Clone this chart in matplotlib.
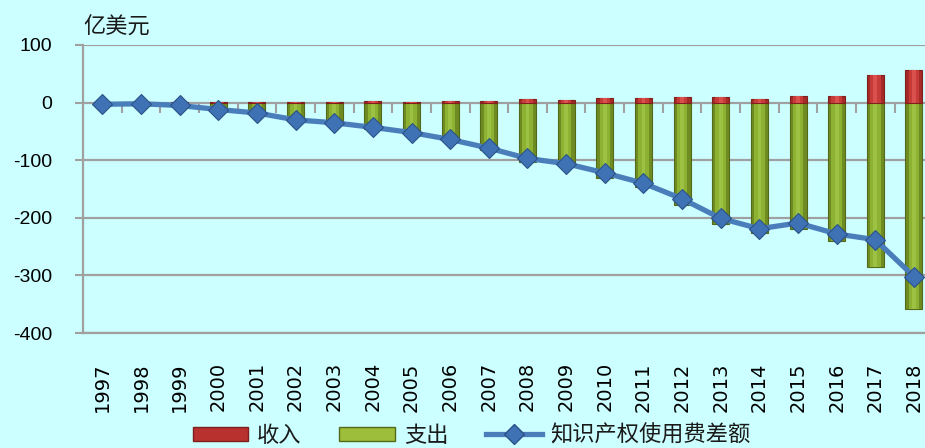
import matplotlib
matplotlib.use("Agg")
import matplotlib.pyplot as plt
import numpy as np
from matplotlib.patches import Patch
from matplotlib.lines import Line2D

BG = "#CCFFFF"; GRID = "#A0A0A0"; INK = "#1A1A1A"
CJK = ["Noto Sans CJK SC", "DejaVu Sans"]

years = [str(y) for y in range(1997, 2019)]
income = [0.6, 0.6, 0.8, 0.8, 1.1, 1.3, 1.1, 2.4, 1.6, 2.0, 3.4, 5.7,
          4.3, 8.3, 7.4, 10.4, 8.9, 6.8, 10.8, 11.6, 48, 56]
payment = [3.5, 2.5, 5.5, 12.8, 19.4, 31.1, 35.5, 45.0, 53.2, 66.3, 81.9, 103.2,
           110.7, 130.4, 147.1, 177.5, 210.3, 226.1, 220.2, 239.8, 285.8, 357.9]
balance = [-3, -2, -5, -12, -18, -30, -35, -43, -52, -64, -79, -97,
           -106, -122, -140, -167, -201, -219, -209, -228, -238, -302]

plt.rcParams.update({"font.family": "Liberation Sans", "text.color": INK})

fig = plt.figure(figsize=(9.25, 4.48), dpi=100, facecolor=BG)
ax = fig.add_axes([83/925, 1-333/448, (933.3-83)/925, (333-45)/448])
ax.set_facecolor(BG)

x = np.arange(len(years))
pay_neg = [-v for v in payment]
w = 0.44
# green bars with simple bevel shading
ax.bar(x, pay_neg, width=w, color="#6F8C22", edgecolor="#55691A", lw=0.8, zorder=3)
ax.bar(x, pay_neg, width=w*0.62, color="#8DB133", lw=0, zorder=3)
ax.bar(x, pay_neg, width=w*0.22, color="#9DC243", lw=0, zorder=3)
# red bars
ax.bar(x, income, width=w, color="#A62A28", edgecolor="#7E1F1E", lw=0.8, zorder=3)
ax.bar(x, income, width=w*0.62, color="#C63A37", lw=0, zorder=3)
ax.bar(x, income, width=w*0.22, color="#D9504C", lw=0, zorder=3)

ax.plot(x, balance, color="#4A7EBB", lw=3.8, zorder=4, solid_capstyle="round",
        marker="D", ms=10, mfc="#3F72B5", mec="#2B5287", mew=0.8)

ax.set_xlim(-0.5, len(years)-0.5)
ax.set_ylim(-400, 100)
ax.set_yticks([100, 0, -100, -200, -300, -400])
ax.set_yticklabels(["100", "0", "-100", "-200", "-300", "-400"])
ax.tick_params(axis="y", length=6, width=1.5, color=GRID, pad=16, labelsize=14, labelcolor="black")
ax.set_xticks(x)
ax.set_xticklabels(years, rotation=90, fontsize=14, family="DejaVu Sans")
ax.tick_params(axis="x", length=0, pad=21)
ax.grid(True, axis="y", color=GRID, lw=1.6, zorder=1)
ax.set_axisbelow(True)
for s in ["top", "right"]:
    ax.spines[s].set_visible(False)
for s in ["left", "bottom"]:
    ax.spines[s].set_color(GRID); ax.spines[s].set_linewidth(1.6)

# category boundary ticks on the zero line
sec = ax.secondary_xaxis(0.8)
sec.xaxis.set_ticks_position("bottom")
sec.set_xticks(np.arange(-0.5, len(years), 1.0))
sec.set_xticklabels([])
sec.tick_params(axis="x", direction="out", length=7, width=1.5, color=GRID)
sec.spines["bottom"].set_visible(False)
sec.spines["top"].set_visible(False)

fig.text(83/925, 1-27/448, "亿美元", fontsize=16, family=CJK, ha="left", va="center", color=INK)

handles = [Patch(facecolor="#B8312F", edgecolor="#7E1F1E"),
           Patch(facecolor="#9DBE3A", edgecolor="#55691A"),
           Line2D([], [], color="#4A7EBB", lw=3.8, marker="D", ms=10, mfc="#3F72B5", mec="#2B5287")]
leg = fig.legend(handles, ["收入", "支出", "知识产权使用费差额"], loc="center",
                 bbox_to_anchor=(0.51, 1-435/448), ncol=3, frameon=False,
                 prop={"family": CJK, "size": 16}, handlelength=2.5, handleheight=0.6,
                 handletextpad=0.4, columnspacing=1.7)

fig.savefig("out.png", dpi=100, facecolor=BG)
